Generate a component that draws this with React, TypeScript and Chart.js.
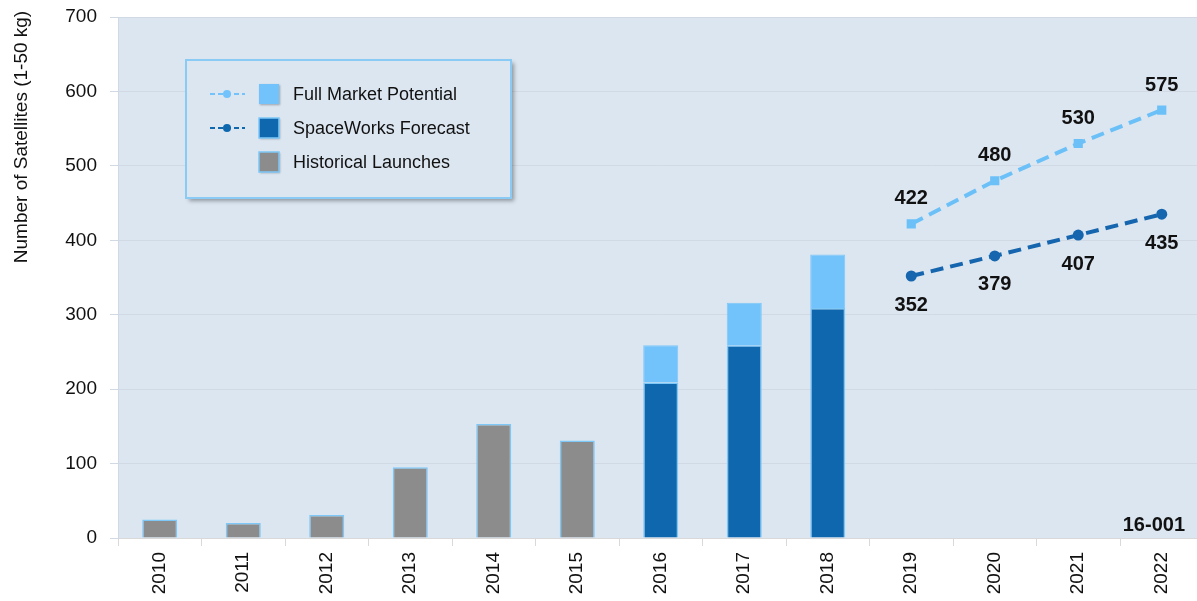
import React, { useEffect, useRef } from "react";
import { Chart, registerables } from "chart.js";

Chart.register(...registerables);

// Launch years on the category axis
const years = ["2010", "2011", "2012", "2013", "2014", "2015", "2016", "2017", "2018", "2019", "2020", "2021", "2022"];

// Nano/microsatellites launched per year (1-50 kg)
const historicalLaunches = [25, 20, 31, 95, 153, 131, null, null, null, null, null, null, null];
const forecastBars = [null, null, null, null, null, null, 209, 259, 309, null, null, null, null];
const potentialBars = [null, null, null, null, null, null, 259, 316, 381, null, null, null, null];

// Projection lines
const potentialLine = [null, null, null, null, null, null, null, null, null, 422, 480, 530, 575];
const forecastLine = [null, null, null, null, null, null, null, null, null, 352, 379, 407, 435];

const yTickValues = [0, 100, 200, 300, 400, 500, 600, 700];

const FONT = "'Liberation Sans', Arial, sans-serif";
const LIGHT = "#72C3FC";
const DARK = "#0F67AE";
const GRAY = "#8C8C8C";
const EDGE = "#7EC8F8";
const PLOT_BG = "#DCE6F1";

const plotBackground = {
  id: "plotBackground",
  beforeDraw(chart: any) {
    const { ctx, chartArea } = chart;
    ctx.save();
    ctx.fillStyle = PLOT_BG;
    ctx.fillRect(chartArea.left, chartArea.top, chartArea.right - chartArea.left, chartArea.bottom - chartArea.top);
    ctx.restore();
  },
};

const annotations = {
  id: "annotations",
  afterDatasetsDraw(chart: any) {
    const { ctx } = chart;
    ctx.save();
    ctx.font = `bold 20px ${FONT}`;
    ctx.fillStyle = "#111";
    ctx.textAlign = "center";
    ctx.textBaseline = "middle";
    const potMeta = chart.getDatasetMeta(3);
    potentialLine.forEach((v, i) => {
      if (v == null) return;
      const p = potMeta.data[i];
      ctx.fillText(String(v), p.x, p.y - 25);
    });
    const fcMeta = chart.getDatasetMeta(4);
    forecastLine.forEach((v, i) => {
      if (v == null) return;
      const p = fcMeta.data[i];
      ctx.fillText(String(v), p.x, p.y + 29);
    });
    // Figure reference number
    ctx.textAlign = "right";
    ctx.fillText("16-001", 1185, 525);

    // Y-axis title
    ctx.font = `19px ${FONT}`;
    ctx.fillStyle = "#111";
    ctx.textAlign = "center";
    ctx.translate(22, 137);
    ctx.rotate(-Math.PI / 2);
    ctx.fillText("Number of Satellites (1-50 kg)", 0, 0);
    ctx.restore();
  },
  afterDraw(chart: any) {
    const { ctx } = chart;
    ctx.save();
    const bx = 186, by = 60, bw = 325, bh = 138;
    ctx.shadowColor = "rgba(0,0,0,0.35)";
    ctx.shadowOffsetX = 3;
    ctx.shadowOffsetY = 3;
    ctx.shadowBlur = 4;
    ctx.fillStyle = PLOT_BG;
    ctx.fillRect(bx, by, bw, bh);
    ctx.shadowColor = "transparent";
    ctx.strokeStyle = "#8ACBF6";
    ctx.lineWidth = 2;
    ctx.strokeRect(bx, by, bw, bh);

    const rows = [
      { label: "Full Market Potential", color: LIGHT, line: true, y: 94 },
      { label: "SpaceWorks Forecast", color: DARK, line: true, y: 128 },
      { label: "Historical Launches", color: GRAY, line: false, y: 162 },
    ];
    rows.forEach((r) => {
      if (r.line) {
        ctx.strokeStyle = r.color;
        ctx.lineWidth = 2;
        ctx.setLineDash([5, 3]);
        ctx.beginPath();
        ctx.moveTo(210, r.y);
        ctx.lineTo(245, r.y);
        ctx.stroke();
        ctx.setLineDash([]);
        ctx.fillStyle = r.color;
        ctx.beginPath();
        ctx.arc(227, r.y, 4, 0, Math.PI * 2);
        ctx.fill();
      }
      ctx.shadowColor = "rgba(0,0,0,0.3)";
      ctx.shadowOffsetX = 1;
      ctx.shadowOffsetY = 1;
      ctx.shadowBlur = 2;
      ctx.fillStyle = r.color;
      ctx.fillRect(259, r.y - 10, 20, 20);
      ctx.shadowColor = "transparent";
      if (r.color !== LIGHT) {
        ctx.strokeStyle = EDGE;
        ctx.lineWidth = 1.5;
        ctx.strokeRect(259, r.y - 10, 20, 20);
      }
      ctx.fillStyle = "#111";
      ctx.font = `18px ${FONT}`;
      ctx.textAlign = "left";
      ctx.textBaseline = "middle";
      ctx.fillText(r.label, 293, r.y + 1);
    });
    ctx.restore();
  },
};

export default function App() {
  const canvasRef = useRef<HTMLCanvasElement | null>(null);

  useEffect(() => {
    if (!canvasRef.current) return;
    Chart.defaults.font.family = FONT;
    const chart = new Chart(canvasRef.current, {
      type: "bar",
      data: {
        labels: years,
        datasets: [
          {
            label: "Historical Launches",
            data: historicalLaunches as any,
            backgroundColor: GRAY,
            borderColor: EDGE,
            borderWidth: 1.5,
            stack: "bars",
            barPercentage: 0.42,
            categoryPercentage: 1,
          },
          {
            label: "SpaceWorks Forecast",
            data: forecastBars as any,
            backgroundColor: DARK,
            borderColor: EDGE,
            borderWidth: 1.5,
            stack: "bars",
            barPercentage: 0.42,
            categoryPercentage: 1,
          },
          {
            label: "Full Market Potential",
            data: potentialBars.map((v, i) => (v == null ? null : [forecastBars[i] as number, v])) as any,
            backgroundColor: LIGHT,
            borderColor: EDGE,
            borderWidth: 1,
            stack: "bars",
            barPercentage: 0.42,
            categoryPercentage: 1,
          },
          {
            type: "line",
            label: "Full Market Potential",
            data: potentialLine as any,
            borderColor: "#6CC0F8",
            backgroundColor: "#6CC0F8",
            borderWidth: 4,
            borderDash: [13, 7],
            pointStyle: "rect",
            pointRadius: 6.5,
            pointBorderWidth: 0,
            fill: false,
            stack: "l1",
          } as any,
          {
            type: "line",
            label: "SpaceWorks Forecast",
            data: forecastLine as any,
            borderColor: "#1566AE",
            backgroundColor: "#1566AE",
            borderWidth: 4,
            borderDash: [13, 7],
            pointStyle: "circle",
            pointRadius: 5.5,
            pointBorderWidth: 0,
            fill: false,
            stack: "l2",
          } as any,
        ],
      },
      options: {
        responsive: false,
        animation: false,
        layout: { padding: { top: 17, right: 0, left: 0, bottom: 0 } },
        plugins: {
          legend: { display: false },
          tooltip: { enabled: false },
        },
        scales: {
          x: {
            stacked: true,
            offset: true,
            grid: {
              display: true,
              drawOnChartArea: false,
              drawTicks: true,
              tickLength: 8,
              color: "#D9D9D9",
              offset: true,
            },
            border: { display: true, color: "#D9D9D9" },
            ticks: {
              minRotation: 90,
              maxRotation: 90,
              padding: 6,
              color: "#111",
              font: { size: 19, family: FONT },
            },
            afterFit(scale: any) {
              scale.height = 63;
              scale.paddingLeft = 0;
              scale.paddingRight = 0;
            },
          },
          y: {
            stacked: false,
            min: 0,
            max: 700,
            afterBuildTicks(scale: any) {
              scale.ticks = yTickValues.map((v) => ({ value: v }));
            },
            grid: {
              color: "#D0D9E4",
              tickLength: 8,
              drawTicks: true,
            },
            border: { display: true, color: "#D0D9E4" },
            ticks: {
              padding: 13,
              color: "#111",
              font: { size: 19, family: FONT },
            },
            afterFit(scale: any) {
              scale.width = 118;
              scale.paddingTop = 0;
              scale.paddingBottom = 0;
            },
          },
        },
      },
      plugins: [plotBackground, annotations],
    });
    return () => chart.destroy();
  }, []);

  return (
    <div
      style={{
        position: "fixed",
        left: 0,
        top: 0,
        width: 1197,
        height: 601,
        overflow: "hidden",
        background: "#fff",
      }}
    >
      <canvas ref={canvasRef} width={1210} height={601} style={{ width: 1210, height: 601, display: "block" }} />
    </div>
  );
}
